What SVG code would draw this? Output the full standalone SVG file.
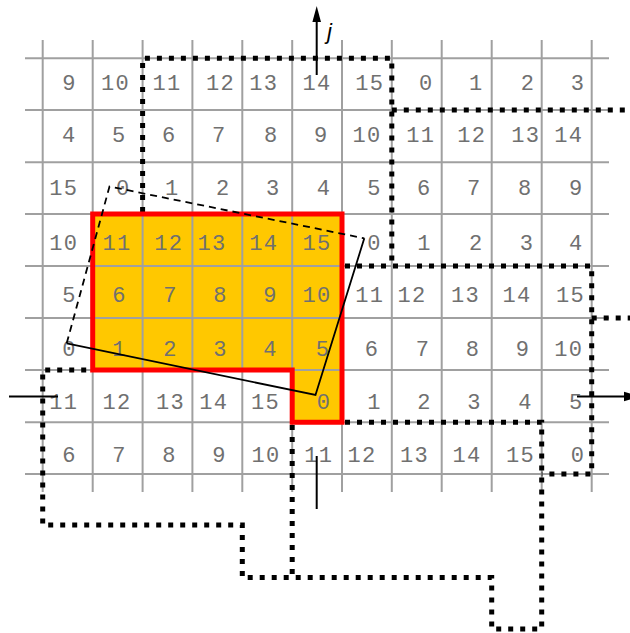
<svg xmlns="http://www.w3.org/2000/svg" width="630" height="633" viewBox="0 0 630 633">
<style>
.grid line{stroke:#a0a0a0;stroke-width:2}
.lbl text{font-family:"Liberation Mono",monospace;font-size:22px;fill:#707070;text-anchor:middle}
.dot{fill:none;stroke:#000;stroke-width:5;stroke-dasharray:5 7}
.quad{fill:none;stroke:#000;stroke-width:1.8}
.axis{stroke:#000;stroke-width:2;fill:none}
</style>
<rect width="630" height="633" fill="#fff"/>
<g id="region">
<path d="M92.7,214 H342 V422.2 H292.2 V370 H92.7 Z" fill="#ffc800"/>
</g>
<g id="grid" class="grid">
<line x1="42.7" y1="40" x2="42.7" y2="492"/>
<line x1="92.7" y1="40" x2="92.7" y2="492"/>
<line x1="142.6" y1="40" x2="142.6" y2="492"/>
<line x1="192.4" y1="40" x2="192.4" y2="492"/>
<line x1="242.3" y1="40" x2="242.3" y2="492"/>
<line x1="292.2" y1="40" x2="292.2" y2="492"/>
<line x1="342" y1="40" x2="342" y2="492"/>
<line x1="391.8" y1="40" x2="391.8" y2="492"/>
<line x1="441.7" y1="40" x2="441.7" y2="492"/>
<line x1="491.7" y1="40" x2="491.7" y2="492"/>
<line x1="541.7" y1="40" x2="541.7" y2="492"/>
<line x1="591.7" y1="40" x2="591.7" y2="492"/>
<line x1="25" y1="58.3" x2="609" y2="58.3"/>
<line x1="25" y1="110.1" x2="609" y2="110.1"/>
<line x1="25" y1="162.2" x2="609" y2="162.2"/>
<line x1="25" y1="214" x2="609" y2="214"/>
<line x1="25" y1="266" x2="609" y2="266"/>
<line x1="25" y1="317.9" x2="609" y2="317.9"/>
<line x1="25" y1="370" x2="609" y2="370"/>
<line x1="25" y1="422.2" x2="609" y2="422.2"/>
<line x1="25" y1="474" x2="609" y2="474"/>
</g>
<g id="labels" class="lbl">
<g id="row0">
<text x="68.9" y="89.5">9</text>
<text x="107.5 122" y="89.5">10</text>
<text x="159.1 173.6" y="89.5">11</text>
<text x="212.5 227" y="89.5">12</text>
<text x="255.8 270.3" y="89.5">13</text>
<text x="309.1 323.6" y="89.5">14</text>
<text x="361.8 376.3" y="89.5">15</text>
<text x="425.6" y="89.5">0</text>
<text x="475.6" y="89.5">1</text>
<text x="527.3" y="89.5">2</text>
<text x="577.3" y="89.5">3</text>
</g>
<g id="row1">
<text x="68.6" y="142">4</text>
<text x="118.6" y="142">5</text>
<text x="168.6" y="142">6</text>
<text x="218.6" y="142">7</text>
<text x="270.6" y="142">8</text>
<text x="320.6" y="142">9</text>
<text x="359.1 373.6" y="142">10</text>
<text x="412.8 427.3" y="142">11</text>
<text x="463.8 478.3" y="142">12</text>
<text x="517.8 532.3" y="142">13</text>
<text x="560.8 575.3" y="142">14</text>
</g>
<g id="row2">
<text x="55.8 70.3" y="195">15</text>
<text x="122.6" y="195">0</text>
<text x="171.6" y="195">1</text>
<text x="222.6" y="195">2</text>
<text x="272.6" y="195">3</text>
<text x="323.3" y="195">4</text>
<text x="373.9" y="195">5</text>
<text x="423.6" y="195">6</text>
<text x="473.6" y="195">7</text>
<text x="524.6" y="195">8</text>
<text x="575.6" y="195">9</text>
</g>
<g id="row3">
<text x="55.8 70.3" y="249.5">10</text>
<text x="109.1 123.6" y="249.5">11</text>
<text x="160.8 175.3" y="249.5">12</text>
<text x="204.1 218.6" y="249.5">13</text>
<text x="255.8 270.3" y="249.5">14</text>
<text x="309.1 323.6" y="249.5">15</text>
<text x="373.9" y="249.5">0</text>
<text x="423.9" y="249.5">1</text>
<text x="475.6" y="249.5">2</text>
<text x="526.3" y="249.5">3</text>
<text x="575.6" y="249.5">4</text>
</g>
<g id="row4">
<text x="68.9" y="302">5</text>
<text x="118.9" y="302">6</text>
<text x="169.9" y="302">7</text>
<text x="219.9" y="302">8</text>
<text x="269.9" y="302">9</text>
<text x="309.1 323.6" y="302">10</text>
<text x="361.8 376.3" y="302">11</text>
<text x="404.1 418.6" y="302">12</text>
<text x="457.5 472" y="302">13</text>
<text x="509.1 523.6" y="302">14</text>
<text x="562.5 577" y="302">15</text>
</g>
<g id="row5">
<text x="68.9" y="355.5">0</text>
<text x="118.9" y="355.5">1</text>
<text x="169.9" y="355.5">2</text>
<text x="219.9" y="355.5">3</text>
<text x="269.9" y="355.5">4</text>
<text x="322.3" y="355.5">5</text>
<text x="371.3" y="355.5">6</text>
<text x="422.3" y="355.5">7</text>
<text x="472.3" y="355.5">8</text>
<text x="522.3" y="355.5">9</text>
<text x="560.8 575.3" y="355.5">10</text>
</g>
<g id="row6">
<text x="55.8 70.3" y="408.5">11</text>
<text x="109.1 123.6" y="408.5">12</text>
<text x="162.5 177" y="408.5">13</text>
<text x="205.8 220.3" y="408.5">14</text>
<text x="257.5 272" y="408.5">15</text>
<text x="323.3" y="408.5">0</text>
<text x="373.9" y="408.5">1</text>
<text x="423.9" y="408.5">2</text>
<text x="473.9" y="408.5">3</text>
<text x="524.9" y="408.5">4</text>
<text x="575.6" y="408.5">5</text>
</g>
<g id="row7">
<text x="68.9" y="462">6</text>
<text x="118.9" y="462">7</text>
<text x="168.9" y="462">8</text>
<text x="218.9" y="462">9</text>
<text x="258.1 272.6" y="462">10</text>
<text x="310.8 325.3" y="462">11</text>
<text x="354.1 368.6" y="462">12</text>
<text x="406.5 421" y="462">13</text>
<text x="459.1 473.6" y="462">14</text>
<text x="512.5 527" y="462">15</text>
<text x="577.3" y="462">0</text>
</g>
</g>
<g id="connectors">
<g id="tiles">
<path class="dot" d="M142.6,212 V58.3 H391.8 V266"/>
<path class="dot" d="M391.8,110.1 H630"/>
<path class="dot" d="M345,266 H591.7 V474 H541.7"/>
<path class="dot" d="M591.7,317.9 H630"/>
<path class="dot" d="M345,422.2 H541.7 V629 H491.7 V577.5 H242.3 V525 H42.7 V370 H90"/>
<path class="dot" d="M292.2,425 V577.5"/>
</g>
<g id="outline">
<path d="M92.7,214 H342 V422.2 H292.2 V370 H92.7 Z" fill="none" stroke="#ff0000" stroke-width="5"/>
</g>
<g id="rotated">
<path class="quad" d="M66.7,343.3 L109.5,186.5 L364.3,238.3" stroke-dasharray="7 5"/>
<path class="quad" d="M364.3,238.3 L315.5,395 L66.7,343.3"/>
</g>
<g id="axes">
<line class="axis" x1="316.7" y1="75" x2="316.7" y2="20"/>
<polygon points="316.7,6 312.4,22 321,22" fill="#000"/>
<line class="axis" x1="316.7" y1="456" x2="316.7" y2="509"/>
<line class="axis" x1="9" y1="396.5" x2="58" y2="396.5"/>
<line class="axis" x1="577" y1="396.5" x2="626" y2="396.5"/>
<polygon points="640,396.5 624,391.8 624,401.2" fill="#000"/>
</g>
</g>
<g id="axis-label">
<text x="327" y="38.5" font-family="Liberation Sans, sans-serif" font-style="italic" font-size="22" fill="#000">j</text>
</g>
</svg>
